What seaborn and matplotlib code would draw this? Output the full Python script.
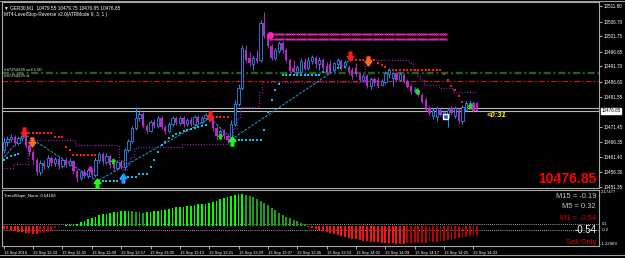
import numpy as np
import pandas as pd
import matplotlib
matplotlib.use("Agg")
import matplotlib.pyplot as plt
import matplotlib.transforms as mtrans
from matplotlib.path import Path
from matplotlib.lines import Line2D
import seaborn as sns

sns.set_style("dark")
plt.rcParams['font.family'] = ['Liberation Sans', 'DejaVu Sans']

# ---------------- data ----------------
header_text = "\u25bc GER30,M1  10479.55 10479.75 10476.85 10476.85"
indicator_title = "MT4-LevelStop-Reverse v2.0(ATRMode 9, 3, 1 )"
sub_title = "TrendSlope_Norm -0.54109"
order_labels = ["#47254325 sell 1.00", "#47254325 sl"]
order_prices = [10489.5, 10486.8]
time_labels = ["13 Sep 2016", "13 Sep 12:33", "13 Sep 12:41", "13 Sep 12:49", "13 Sep 12:57",
               "13 Sep 13:05", "13 Sep 13:13", "13 Sep 13:21", "13 Sep 13:29", "13 Sep 13:37",
               "13 Sep 13:45", "13 Sep 13:53", "13 Sep 14:01", "13 Sep 14:09", "13 Sep 14:17",
               "13 Sep 14:25", "13 Sep 14:33"]
time_label_bars = [0, 8, 16, 24, 32, 40, 48, 56, 64, 72, 80, 88, 96, 104, 112, 120, 128]
price_ticks = [10511.80, 10506.70, 10501.75, 10496.65, 10491.70, 10486.60, 10481.55,
               10471.45, 10466.35, 10461.40, 10456.30, 10451.35]
bid_price = 10476.85
ask_price = 10477.85
ind_ticks = [2.17477, -1.22969]
ind_levels = [0.1, -0.25]
mtf_labels = ["M15 = -0.19", "M5 = 0.32", "M1 = -0.54"]
mtf_value = "-0.54"
mode_label = "Sell Only"
timer_label = "<0:31"

open_ = [10463.7, 10466.4, 10467.4, 10468.1, 10466.1, 10467.7, 10468.4, 10465.1, 10463.1, 10460.4,
         10456.4, 10459.4, 10458.4, 10461.0, 10459.4, 10460.7, 10458.4, 10460.4, 10458.7, 10460.0,
         10456.7, 10454.3, 10456.4, 10455.0, 10457.0, 10455.3, 10460.4, 10462.4, 10459.7, 10461.7,
         10458.7, 10457.7, 10459.7, 10458.0, 10463.7, 10466.7, 10471.1, 10474.4, 10475.8, 10471.8,
         10470.1, 10473.1, 10471.8, 10474.4, 10471.4, 10470.1, 10472.4, 10474.4, 10472.8, 10474.4,
         10472.4, 10473.8, 10472.4, 10474.8, 10473.1, 10474.4, 10475.4, 10474.1, 10471.1, 10468.4,
         10470.1, 10468.4, 10467.1, 10472.4, 10479.1, 10484.5, 10497.2, 10494.5, 10492.5, 10494.5,
         10493.9, 10506.3, 10501.9, 10498.6, 10494.5, 10496.9, 10499.6, 10497.2, 10493.9, 10491.2,
         10489.9, 10489.9, 10493.2, 10491.2, 10493.5, 10494.5, 10492.5, 10493.9, 10491.9, 10492.5,
         10490.5, 10492.5, 10493.5, 10491.9, 10491.5, 10490.5, 10491.2, 10489.2, 10487.2, 10488.5,
         10485.2, 10487.5, 10487.2, 10485.5, 10486.5, 10489.2, 10487.8, 10489.5, 10487.2, 10488.8,
         10486.8, 10485.2, 10483.5, 10483.8, 10482.1, 10480.5, 10477.8, 10475.1, 10474.8, 10477.1,
         10475.8, 10474.8, 10477.8, 10475.1, 10477.1, 10473.4, 10477.1, 10478.8, 10479.5, 10479.55]
close = [10466.4, 10467.4, 10468.1, 10466.1, 10467.7, 10468.4, 10465.1, 10463.1, 10460.4, 10456.4,
         10459.4, 10458.4, 10461.0, 10459.4, 10460.7, 10458.4, 10460.4, 10458.7, 10460.0, 10456.7,
         10454.3, 10456.4, 10455.0, 10457.0, 10455.3, 10460.4, 10462.4, 10459.7, 10461.7, 10458.7,
         10457.7, 10459.7, 10458.0, 10463.7, 10466.7, 10471.1, 10474.4, 10475.8, 10471.8, 10470.1,
         10473.1, 10471.8, 10474.4, 10471.4, 10470.1, 10472.4, 10474.4, 10472.8, 10474.4, 10472.4,
         10473.8, 10472.4, 10474.8, 10473.1, 10474.4, 10475.4, 10474.1, 10471.1, 10468.4, 10470.1,
         10468.4, 10467.1, 10472.4, 10479.1, 10484.5, 10497.9, 10493.9, 10492.9, 10494.5, 10493.5,
         10506.3, 10501.9, 10498.6, 10494.5, 10497.2, 10499.6, 10497.2, 10493.9, 10490.2, 10489.9,
         10491.5, 10493.5, 10490.9, 10493.9, 10494.9, 10492.5, 10493.9, 10491.2, 10490.5, 10489.9,
         10492.9, 10493.9, 10491.5, 10493.2, 10489.9, 10488.5, 10489.2, 10487.2, 10488.5, 10485.2,
         10487.5, 10486.2, 10485.2, 10486.8, 10489.5, 10490.5, 10489.5, 10487.2, 10489.2, 10486.8,
         10484.8, 10483.2, 10484.2, 10482.1, 10479.8, 10477.1, 10476.1, 10477.1, 10477.8, 10475.4,
         10476.5, 10477.1, 10476.1, 10477.8, 10473.4, 10478.1, 10479.5, 10479.5, 10476.8, 10476.85]
high = [10468.1, 10468.4, 10469.1, 10468.7, 10468.4, 10469.1, 10468.7, 10465.7, 10463.7, 10461.0,
        10460.4, 10460.4, 10462.0, 10461.7, 10461.4, 10461.7, 10461.0, 10461.4, 10461.0, 10460.4,
        10457.4, 10457.0, 10457.4, 10457.7, 10457.7, 10461.4, 10463.1, 10463.1, 10462.7, 10462.4,
        10459.4, 10460.4, 10460.4, 10464.4, 10467.4, 10471.8, 10478.1, 10477.1, 10476.5, 10472.4,
        10473.8, 10474.1, 10475.1, 10475.1, 10472.1, 10473.1, 10475.1, 10475.1, 10475.1, 10475.1,
        10474.4, 10474.8, 10475.4, 10475.4, 10475.1, 10476.1, 10476.1, 10474.8, 10471.8, 10470.8,
        10470.8, 10469.4, 10473.8, 10480.5, 10485.8, 10498.9, 10498.9, 10496.6, 10495.6, 10497.2,
        10507.3, 10510.0, 10502.9, 10499.2, 10497.9, 10500.2, 10500.2, 10497.9, 10494.5, 10493.9,
        10492.2, 10494.5, 10494.5, 10494.9, 10495.6, 10495.2, 10494.9, 10494.5, 10493.2, 10493.9,
        10493.2, 10494.5, 10494.2, 10493.9, 10492.2, 10491.5, 10492.9, 10489.9, 10489.2, 10489.2,
        10488.2, 10488.2, 10488.2, 10487.5, 10490.2, 10491.2, 10489.9, 10489.9, 10489.9, 10489.5,
        10487.5, 10485.8, 10484.8, 10484.5, 10482.8, 10481.5, 10478.5, 10477.8, 10478.5, 10477.8,
        10477.1, 10477.8, 10478.5, 10478.5, 10477.8, 10478.8, 10480.1, 10480.5, 10480.1, 10479.75]
low = [10462.7, 10465.1, 10466.4, 10465.1, 10465.4, 10466.7, 10464.4, 10461.7, 10459.0, 10455.3,
       10455.3, 10457.4, 10457.7, 10458.4, 10458.4, 10457.4, 10457.7, 10458.0, 10458.4, 10455.7,
       10453.0, 10453.7, 10454.3, 10454.3, 10454.0, 10454.7, 10459.4, 10458.7, 10459.0, 10457.7,
       10456.7, 10457.0, 10457.4, 10457.0, 10463.1, 10466.1, 10470.4, 10473.4, 10471.1, 10469.4,
       10469.7, 10471.1, 10471.1, 10470.8, 10469.1, 10469.4, 10471.8, 10472.1, 10472.1, 10471.4,
       10471.8, 10471.8, 10471.8, 10472.4, 10472.4, 10473.8, 10473.1, 10470.1, 10467.1, 10467.4,
       10467.4, 10466.1, 10466.4, 10471.8, 10478.5, 10483.8, 10493.2, 10491.9, 10490.5, 10492.9,
       10493.2, 10501.2, 10497.9, 10493.9, 10493.9, 10496.2, 10496.2, 10493.2, 10489.5, 10489.5,
       10489.2, 10489.5, 10490.5, 10490.5, 10492.5, 10491.2, 10490.5, 10490.5, 10489.5, 10489.2,
       10489.9, 10491.2, 10490.5, 10491.2, 10489.2, 10487.5, 10488.5, 10486.5, 10486.5, 10484.5,
       10484.2, 10485.2, 10484.5, 10485.2, 10485.8, 10487.8, 10485.2, 10486.5, 10486.8, 10486.2,
       10484.5, 10482.5, 10482.8, 10481.8, 10479.5, 10476.8, 10475.4, 10474.1, 10473.4, 10475.1,
       10474.8, 10471.4, 10475.4, 10474.4, 10472.8, 10472.4, 10476.8, 10477.8, 10476.5, 10476.85]

trend_slope = [-0.17, -0.22, -0.27, -0.30, -0.35, -0.38, -0.42, -0.45, -0.47, -0.47,
               -0.45, -0.42, -0.35, -0.27, -0.15, -0.08, -0.03, 0.02, 0.05, 0.08,
               0.12, 0.20, 0.30, 0.40, 0.48, 0.56, 0.64, 0.70, 0.74, 0.78,
               0.82, 0.86, 0.90, 0.92, 0.92, 0.90, 0.86, 0.82, 0.80, 0.82,
               0.84, 0.88, 0.92, 0.94, 0.98, 1.02, 1.08, 1.12, 1.16, 1.16,
               1.18, 1.22, 1.28, 1.30, 1.32, 1.34, 1.36, 1.42, 1.50, 1.60,
               1.68, 1.76, 1.84, 1.90, 1.92, 1.93, 1.88, 1.80, 1.72, 1.60,
               1.48, 1.38, 1.24, 1.08, 0.94, 0.80, 0.68, 0.56, 0.46, 0.36,
               0.28, 0.18, 0.08, -0.05, -0.12, -0.20, -0.27, -0.33, -0.40, -0.46,
               -0.52, -0.58, -0.64, -0.70, -0.74, -0.78, -0.82, -0.86, -0.90, -0.93,
               -0.96, -0.98, -1.00, -1.02, -1.04, -1.06, -1.07, -1.08, -1.08, -1.08,
               -1.07, -1.06, -1.05, -1.04, -1.03, -1.02, -1.01, -1.00, -0.98, -0.95,
               -0.92, -0.89, -0.86, -0.82, -0.77, -0.72, -0.66, -0.61, -0.57, -0.54]

N = None
stop_buy = [10460.4, 10461.0, 10461.7, 10462.0, 10462.4, N, N, N, N, N,
            N, N, N, N, N, N, N, N, N, N,
            N, N, N, N, N, N, 10453.3, 10453.3, 10453.3, 10453.3,
            10453.3, 10453.3, 10454.0, 10454.7, 10454.7, 10454.7, 10454.7, 10455.7, 10455.7, 10455.7,
            10458.0, 10460.4, 10463.1, 10465.4, 10466.4, 10467.7, 10468.4, 10469.1, 10469.4, 10470.1,
            10470.4, 10470.8, 10471.1, 10471.4, 10471.8, 10472.1, N, N, N, N,
            N, N, N, 10467.1, 10467.1, 10467.1, 10467.1, 10467.1, 10467.1, 10467.1,
            10467.1, 10470.4, 10476.5, 10480.5, 10483.8, 10485.8, 10488.8, 10488.8, 10488.8, 10488.8,
            10488.8, 10488.8, 10488.8, 10488.8, 10488.8, 10488.8, 10488.8, 10489.9, 10490.2, 10490.5,
            10490.9, 10491.2, 10491.2, 10491.5, N, N, N, N, N, N,
            N, N, N, N, N, N, N, N, N, N,
            N, N, N, N, N, N, N, N, N, N,
            N, N, N, N, N, N, N, N, N, N]
stop_sell = [N, N, N, N, N, N, 10469.4, 10469.4, 10469.4, 10469.4,
             10469.4, 10469.4, 10469.4, 10469.4, 10468.1, 10468.1, 10468.1, 10464.7, 10463.7, 10462.0,
             10462.0, 10462.0, 10462.0, 10462.0, 10462.0, 10462.0, N, N, N, N,
             N, N, N, N, N, N, N, N, N, N,
             N, N, N, N, N, N, N, N, N, N,
             N, N, N, N, N, N, N, 10474.8, 10474.8, 10474.8,
             10474.8, 10474.8, N, N, N, N, N, N, N, N,
             N, N, N, N, N, N, N, N, N, N,
             N, N, N, N, N, N, N, N, N, N,
             N, N, N, N, N, 10493.9, 10493.9, 10493.9, 10493.9, 10493.9,
             10493.9, 10493.9, 10492.9, 10492.2, 10491.5, 10490.5, 10490.5, 10490.5, 10490.5, 10490.5,
             10490.5, 10490.5, 10490.5, 10490.5, 10490.5, 10490.5, 10490.5, 10490.5, 10490.5, 10490.5,
             10489.2, 10487.2, 10485.2, 10483.8, 10481.8, 10479.8, N, N, N, N]
atr_band = [10457.7, 10457.7, 10457.7, 10459.0, 10459.0, 10459.0, 10459.0, 10467.1, 10467.1, 10467.1,
            10467.1, 10467.1, 10467.1, 10467.1, 10467.1, 10467.1, 10467.1, 10467.1, 10467.1, 10467.1,
            10465.4, 10465.4, 10465.4, 10465.4, 10465.4, 10465.4, 10465.4, 10465.4, 10465.4, 10465.4,
            10465.4, 10465.4, 10460.4, 10457.0, 10458.7, 10461.4, 10464.4, 10464.7, 10464.7, 10464.7,
            10464.7, 10464.7, 10464.7, 10464.7, 10464.7, 10464.7, 10464.7, 10464.7, 10464.7, 10465.7,
            10465.7, 10465.7, 10465.7, 10465.7, 10465.7, 10465.7, 10465.7, 10465.7, 10465.7, 10465.7,
            10465.7, 10465.7, 10468.1, 10471.1, 10474.4, 10478.1, 10478.1, 10478.1, 10478.1, 10478.1,
            10483.2, 10486.5, 10486.5, 10486.5, 10486.5, 10486.5, 10486.5, 10486.5, 10486.5, 10486.5,
            10486.5, 10486.5, 10486.5, 10486.5, 10486.5, 10486.5, 10486.5, 10486.5, 10486.5, 10486.5,
            10486.5, 10486.5, 10486.5, 10486.5, 10486.5, 10486.5, 10486.5, 10486.5, 10486.5, 10492.2,
            10493.9, 10493.9, 10493.9, 10493.9, 10493.9, 10493.9, 10493.9, 10493.9, 10493.9, 10493.9,
            10493.9, 10492.9, 10490.5, 10488.5, 10487.2, 10485.5, 10485.5, 10485.5, 10485.5, 10484.5,
            10484.5, 10484.5, 10484.5, 10483.2, 10483.2, 10483.2, 10483.2, 10483.2, 10483.2, 10483.2]

signal_line_bar = [-0.5, 5.5, 25.5, 56.2, 62.2, 94.4]
signal_line_price = [10460.4, 10469.1, 10453.3, 10474.4, 10467.4, 10493.9]

sell_arrow_bar = [5.5, 56.2, 94.4]
sell_arrow_price = [10469.9, 10475.1, 10495.1]
exit_arrow_bar = [7.7, 99.3]
exit_arrow_price = [10466.3, 10493.4]
buy_arrow_bar = [25.5, 62.2]
buy_arrow_price = [10452.8, 10466.8]
reentry_arrow_bar = [32.5]
reentry_arrow_price = [10454.5]
small_up_bar = [29.8, 59.0, 112.6, 127.0]
small_up_price = [10460.0, 10468.4, 10483.5, 10478.5]
small_dn_bar = [23.5]
small_dn_price = [10457.4]

pending_start, pending_end = 72.6, 120.8
pending_prices = [10502.6, 10500.9]
order_marker_bar, order_marker_price = 120.2, 10475.1

# ---------------- layout helpers ----------------
W, H = 625, 258
fig = plt.figure(figsize=(W / 100, H / 100), dpi=100, facecolor='black')


def rect(x0, y0, x1, y1):
    return [x0 / W, 1 - y1 / H, (x1 - x0) / W, (y1 - y0) / H]


def P(x, y):
    return (x / W, 1 - y / H)


X0, X1 = 2, 599
BAR0, STEP = 3.7, 3.67
xlim = ((X0 - BAR0) / STEP, (X1 - BAR0) / STEP)

ax = fig.add_axes(rect(X0, 2, X1, 188))
axi = fig.add_axes(rect(X0, 190, X1, 246))
for a in (ax, axi):
    a.set_facecolor('black')
    a.grid(False)
    for s in a.spines.values():
        s.set_color('#A8A8A8')
        s.set_linewidth(0.8)

BULL = '#2B8AF0'
BEAR = '#B52BC9'

idx = np.arange(len(close))
o = np.array(open_)
c = np.array(close)
h = np.array(high)
l = np.array(low)
bull = c >= o

# horizontal order lines
ax.axhline(order_prices[0], color='#1C661C', lw=1.7, dashes=(3.0, 1.2, 0.8, 1.2), zorder=1)
ax.axhline(order_prices[1], color='#D01818', lw=0.8, dashes=(5, 2, 1.5, 2), zorder=1)
ax.axhline(ask_price, color='#B8B8B8', lw=0.8, zorder=1)
ax.axhline(bid_price, color='#B8B8B8', lw=0.8, zorder=1)

# signal connecting line
sig_df = pd.DataFrame({'bar': signal_line_bar, 'price': signal_line_price})
sns.lineplot(data=sig_df, x='bar', y='price', ax=ax, color='#2A8CB8', lw=0.8,
             dashes=False, sort=False, zorder=2)
ax.lines[-1].set_dashes((2.5, 1.2))

# ATR band (purple dotted) and stops
band_df = pd.DataFrame({'bar': idx, 'price': atr_band})
ax.plot(band_df['bar'], band_df['price'], color='#A020C8', lw=0.9,
        dashes=(0.8, 1.4), drawstyle='steps-mid', zorder=2)
buy_df = pd.DataFrame({'bar': idx, 'price': pd.array(stop_buy, dtype='Float64')}).dropna()
sell_df = pd.DataFrame({'bar': idx, 'price': pd.array(stop_sell, dtype='Float64')}).dropna()
sns.scatterplot(data=buy_df, x='bar', y='price', ax=ax, color='#00C8E8', marker='s', s=2.2,
                linewidth=0, zorder=3)
sns.scatterplot(data=sell_df, x='bar', y='price', ax=ax, color='#FF1A1A', marker='s', s=2.2,
                linewidth=0, zorder=3)

# candles
ax.vlines(idx[bull], l[bull], h[bull], color=BULL, lw=0.7, zorder=4)
ax.vlines(idx[~bull], l[~bull], h[~bull], color=BEAR, lw=0.7, zorder=4)
body_lo = np.minimum(o, c)
body_h = np.maximum(np.abs(c - o), 0.3)
ax.bar(idx[bull], body_h[bull], bottom=body_lo[bull], width=0.62, facecolor='black',
       edgecolor=BULL, linewidth=0.6, zorder=5)
ax.bar(idx[~bull], body_h[~bull], bottom=body_lo[~bull], width=0.62, color=BEAR,
       linewidth=0, zorder=5)

# pending zig-zag lines (two thin chains of small crosses)
for pp in pending_prices:
    xs = np.arange(pending_start, pending_end, 0.6)
    ax.plot(xs, np.full_like(xs, pp), lw=0.4, marker='x', ms=1.4, mew=0.6,
            color='#FF22C0', zorder=6)
ax.plot([pending_start], [pending_prices[0] - 0.5], marker='o', ms=4.0, color='#FF22C0', zorder=7)

# arrows
down_arrow = Path([(-0.3, 1), (0.3, 1), (0.3, 0), (0.75, 0), (0, -1), (-0.75, 0), (-0.3, 0), (-0.3, 1)],
                  [Path.MOVETO] + [Path.LINETO] * 6 + [Path.CLOSEPOLY])
up_arrow = Path([(x, -y) for x, y in down_arrow.vertices], down_arrow.codes)
ax.plot(sell_arrow_bar, sell_arrow_price, ls='none', marker=down_arrow, ms=6.5, color='#FF1A1A', zorder=8)
ax.plot(exit_arrow_bar, exit_arrow_price, ls='none', marker=down_arrow, ms=6.5, color='#FF6A1A', zorder=8)
ax.plot(buy_arrow_bar, buy_arrow_price, ls='none', marker=up_arrow, ms=6.5, color='#1AFF1A', zorder=8)
ax.plot(reentry_arrow_bar, reentry_arrow_price, ls='none', marker=up_arrow, ms=6.5, color='#2E9BFF', zorder=8)
ax.plot(small_up_bar, small_up_price, ls='none', marker=up_arrow, ms=3.5, color='#1AE01A', zorder=8)
ax.plot(small_dn_bar, small_dn_price, ls='none', marker=down_arrow, ms=3.5, color='#D020D0', zorder=8)
ax.plot([order_marker_bar], [order_marker_price], ls='none', marker='s', ms=3.6, mfc='#1E5AC8',
        mec='white', mew=1.0, zorder=9)

ax.set_xlim(*xlim)
ax.set_ylim(10451.0, 10513.3)
ax.set_xlabel('')
ax.set_ylabel('')
ax.set_xticks([])
ax.yaxis.tick_right()
ax.set_yticks(price_ticks)
ax.set_yticklabels([f"{p:.2f}" for p in price_ticks])
ax.tick_params(axis='y', colors='white', labelsize=3.3, length=2, width=0.5, pad=1.5,
               right=True, left=False)
ax.text(1.004, bid_price, f"{bid_price:.2f}", transform=mtrans.blended_transform_factory(ax.transAxes, ax.transData),
        fontsize=3.3, color='black', va='center', ha='left',
        bbox=dict(boxstyle='square,pad=0.15', fc='white', ec='white'))

# texts on price panel
ax.text(0.004, 0.985, header_text, transform=ax.transAxes, fontsize=3.4, color='white', va='top', ha='left')
ax.text(0.004, 0.948, indicator_title, transform=ax.transAxes, fontsize=3.4, color='white', va='top', ha='left')
blend = mtrans.blended_transform_factory(ax.transAxes, ax.transData)
ax.text(0.004, order_prices[0] + 0.9, order_labels[0], transform=blend, fontsize=3.1, color='#E8E8E8', va='center')
ax.text(0.004, order_prices[1] + 1.7, order_labels[1], transform=blend, fontsize=3.1, color='#E8E8E8', va='center')
ax.text(131.5, 10475.2, timer_label, fontsize=5.5, color='#FFFF00', fontweight='bold', style='italic',
        va='center', ha='left')
fig.text(*P(596, 179), f"{bid_price:.2f}", fontsize=10, fontweight='bold', color='#FF0000',
         ha='right', va='center')

# ---------------- indicator ----------------
ts = np.array(trend_slope)
d = np.diff(ts, prepend=ts[0])
shade = np.where(ts >= 0, np.where(d >= 0, 'up_rise', 'up_fall'), np.where(d <= 0, 'dn_fall', 'dn_rise'))
ind_df = pd.DataFrame({'bar': idx, 'value': ts, 'shade': shade})
pal = {'up_rise': '#00FF00', 'up_fall': '#1E9A1E', 'dn_fall': '#FF1010', 'dn_rise': '#B80000'}
sns.barplot(data=ind_df, x='bar', y='value', hue='shade', palette=pal, native_scale=True,
            width=0.5, dodge=False, legend=False, errorbar=None, saturation=1, linewidth=0, ax=axi)
for lv in ind_levels:
    axi.axhline(lv, color='#D0D0D0', lw=0.6, dashes=(1, 1.5), zorder=0)
axi.set_xlim(*xlim)
axi.set_ylim(-1.22969, 2.17477)
axi.set_xlabel('')
axi.set_ylabel('')
axi.yaxis.tick_right()
axi.set_yticks(ind_ticks)
axi.set_yticklabels([f"{v:.5f}" for v in ind_ticks])
axi.tick_params(axis='y', colors='white', labelsize=3.1, length=0, pad=1.5, right=True, left=False)
for lab, va in zip(axi.get_yticklabels(), ['top', 'bottom']):
    lab.set_va(va)
axi.set_xticks(time_label_bars)
axi.set_xticklabels(time_labels)
axi.tick_params(axis='x', colors='white', labelsize=3.0, length=2.5, width=0.5, pad=1.2,
                bottom=True, direction='out')
for lab in axi.get_xticklabels():
    lab.set_ha('left')
axi.text(0.004, 0.93, sub_title, transform=axi.transAxes, fontsize=3.1, color='white', va='top', ha='left')
for lv, txt in zip(ind_levels, ["0.1", "-0.2"]):
    axi.text(1.004, lv, txt, transform=mtrans.blended_transform_factory(axi.transAxes, axi.transData),
             fontsize=3.0, color='white', va='center', ha='left', clip_on=False)

fig.text(*P(596, 196), mtf_labels[0], fontsize=5.4, color='#C8C8C8', ha='right', va='center')
fig.text(*P(596, 207), mtf_labels[1], fontsize=5.4, color='#C8C8C8', ha='right', va='center')
fig.text(*P(596, 218), mtf_labels[2], fontsize=5.4, color='#E00000', ha='right', va='center')
fig.text(*P(597, 230), mtf_value, fontsize=7, color='white', ha='right', va='center')
fig.text(*P(596, 242), mode_label, fontsize=5.4, color='#E00000', ha='right', va='center')

# window chrome
fig.add_artist(Line2D([0, 1], [1 - 255 / H, 1 - 255 / H], color='#A0A0A0', lw=0.8))
fig.add_artist(Line2D([0, 1], [1 - 0.6 / H, 1 - 0.6 / H], color='#A0A0A0', lw=0.8))

fig.savefig('out.png', dpi=100, facecolor='black')
